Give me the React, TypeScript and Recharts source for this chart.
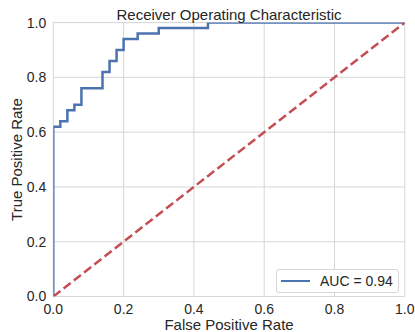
import { LineChart, Line, XAxis, YAxis, CartesianGrid, Legend } from 'recharts';

// ROC curve (steps of 0.02)
const fpr = [0, 0, 0.02, 0.02, 0.04, 0.04, 0.06, 0.06, 0.08, 0.08, 0.14, 0.14, 0.16, 0.16, 0.18, 0.18, 0.2, 0.2, 0.24, 0.24, 0.3, 0.3, 0.44, 0.44, 1.0];
const tpr = [0, 0.62, 0.62, 0.64, 0.64, 0.68, 0.68, 0.7, 0.7, 0.76, 0.76, 0.82, 0.82, 0.86, 0.86, 0.9, 0.9, 0.94, 0.94, 0.96, 0.96, 0.98, 0.98, 1.0, 1.0];
const chanceX = [0, 1];
const chanceY = [0, 1];
const ticks = [0, 0.2, 0.4, 0.6, 0.8, 1.0];
const aucLabel = 'AUC = 0.94';

const rocData = fpr.map((x, i) => ({ x, y: tpr[i] }));
const chanceData = chanceX.map((x, i) => ({ x, y: chanceY[i] }));

const FONT = '"Liberation Sans", Arial, sans-serif';
const TEXT = '#262626';
const GRID = '#d6d6d6';
const BLUE = '#4C72B0';
const RED = '#C44E52';

function AucLegend() {
  return (
    <div
      style={{
        boxSizing: 'border-box',
        width: 123,
        height: 24,
        border: `1px solid ${GRID}`,
        borderRadius: 3,
        background: '#fff',
        display: 'flex',
        alignItems: 'center',
        fontFamily: FONT,
        fontSize: 14,
        color: TEXT,
      }}
    >
      <span style={{ display: 'inline-block', marginLeft: 4, width: 29, height: 2.5, background: BLUE }} />
      <span style={{ marginLeft: 10 }}>{aucLabel}</span>
    </div>
  );
}

export default function App() {
  const tickStyle = { fontFamily: FONT, fontSize: 14, fill: TEXT };
  const labelStyle = { fontFamily: FONT, fontSize: 15, fill: TEXT };
  return (
    <div style={{ position: 'relative', width: 415, height: 332, background: '#fff' }}>
      <style>{'body{margin:0}'}</style>
      <div
        style={{
          position: 'absolute',
          top: 6,
          left: 53,
          width: 352,
          textAlign: 'center',
          fontFamily: FONT,
          fontSize: 15,
          lineHeight: '17px',
          color: TEXT,
          zIndex: 2,
        }}
      >
        Receiver Operating Characteristic
      </div>
      <LineChart width={415} height={332} margin={{ top: 22.6, right: 10.2, left: 0, bottom: 0 }}>
        <CartesianGrid stroke={GRID} strokeWidth={1} horizontalValues={ticks} verticalValues={ticks} />
        <XAxis
          dataKey="x"
          type="number"
          domain={[0, 1]}
          ticks={ticks}
          tickFormatter={(v: number) => v.toFixed(1)}
          allowDataOverflow
          height={35.5}
          axisLine={false}
          tickLine={false}
          tickSize={6}
          tickMargin={2}
          tick={tickStyle}
          label={{ value: 'False Positive Rate', position: 'insideBottom', offset: 2, style: labelStyle }}
        />
        <YAxis
          dataKey="y"
          type="number"
          domain={[0, 1]}
          ticks={ticks}
          tickFormatter={(v: number) => v.toFixed(1)}
          allowDataOverflow
          width={53.3}
          axisLine={false}
          tickLine={false}
          tickSize={6}
          tickMargin={1}
          tick={tickStyle}
          label={{
            value: 'True Positive Rate',
            angle: -90,
            position: 'insideLeft',
            offset: 17,
            style: { ...labelStyle, textAnchor: 'middle' },
          }}
        />
        <Legend
          layout="vertical"
          align="center"
          verticalAlign="middle"
          content={() => <AucLegend />}
          wrapperStyle={{ left: 276, top: 269, width: 123, height: 24 }}
        />
        <Line
          data={rocData}
          dataKey="y"
          type="linear"
          stroke={BLUE}
          strokeWidth={2.5}
          dot={false}
          activeDot={false}
          isAnimationActive={false}
        />
        <Line
          data={chanceData}
          dataKey="y"
          type="linear"
          stroke={RED}
          strokeWidth={2.5}
          strokeDasharray="9 4"
          dot={false}
          activeDot={false}
          isAnimationActive={false}
        />
      </LineChart>
    </div>
  );
}
